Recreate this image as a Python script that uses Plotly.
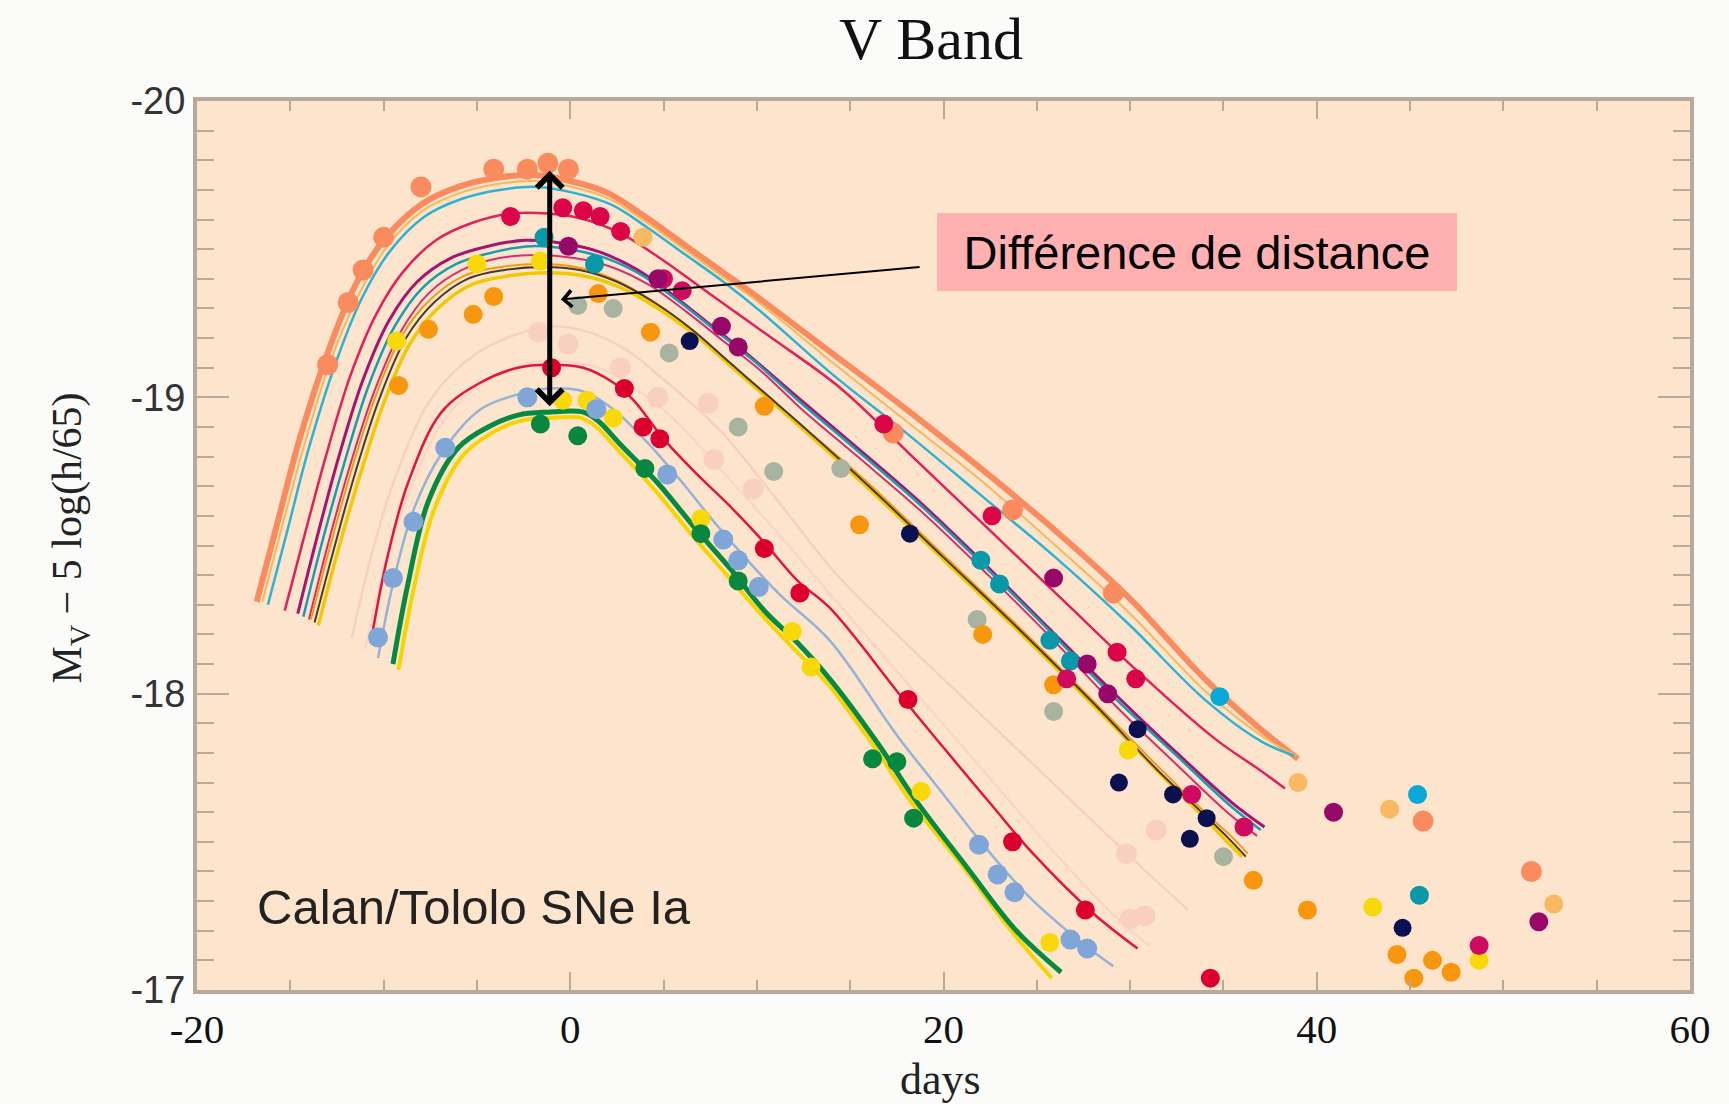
import plotly.graph_objects as go

# ---------------- axis ticks ----------------
x_tick_vals = [-20, 0, 20, 40, 60]
x_tick_text = ["-20", "0", "20", "40", "60"]
y_tick_vals = [-20, -19, -18, -17]
y_tick_text = ["-20", "-19", "-18", "-17"]

# ---------------- fitted light curves (days, magnitude) ----------------
orange_days = [-16.8, -15.8, -14.5, -13.0, -11.5, -10.0, -8.0, -6.0, -4.0, -2.0, 0.0, 2.0, 4.0, 6.0, 8.0, 10.0, 14.0, 18.0, 22.0, 26.0, 30.0, 34.0, 37.0, 39.0]
orange_mags = [-18.31, -18.55, -18.86, -19.15, -19.38, -19.53, -19.65, -19.71, -19.74, -19.75, -19.73, -19.69, -19.61, -19.52, -19.43, -19.34, -19.15, -18.96, -18.76, -18.55, -18.32, -18.05, -17.88, -17.78]

lorange_days = [-16.5, -15.5, -14.2, -12.8, -11.3, -9.8, -7.9, -5.9, -3.9, -1.9, 0.1, 2.1, 4.1, 6.1, 8.1, 10.1, 14.0, 18.0, 22.0, 26.0, 30.0, 34.0, 37.0, 38.9]
lorange_mags = [-18.31, -18.55, -18.85, -19.13, -19.35, -19.51, -19.63, -19.69, -19.72, -19.73, -19.71, -19.67, -19.59, -19.50, -19.41, -19.32, -19.12, -18.92, -18.72, -18.50, -18.27, -18.01, -17.86, -17.79]

cyan_days = [-16.2, -15.2, -14.0, -12.6, -11.2, -9.7, -7.8, -5.8, -3.8, -1.8, 0.2, 2.2, 4.2, 6.2, 8.2, 10.2, 14.0, 18.0, 22.0, 26.0, 30.0, 34.0, 37.0, 38.8]
cyan_mags = [-18.30, -18.54, -18.83, -19.11, -19.33, -19.49, -19.61, -19.67, -19.70, -19.71, -19.69, -19.65, -19.57, -19.48, -19.39, -19.29, -19.08, -18.88, -18.67, -18.46, -18.23, -17.98, -17.84, -17.79]

crimson_days = [-15.3, -14.3, -13.1, -11.8, -10.4, -9.0, -7.2, -5.2, -3.2, -1.2, 0.8, 2.8, 4.8, 6.8, 8.8, 10.8, 14.5, 18.5, 22.5, 26.5, 30.5, 34.5, 37.0, 38.3]
crimson_mags = [-18.28, -18.52, -18.80, -19.07, -19.28, -19.42, -19.53, -19.59, -19.62, -19.62, -19.60, -19.55, -19.47, -19.38, -19.29, -19.20, -19.03, -18.79, -18.55, -18.31, -18.07, -17.85, -17.74, -17.68]

purple_days = [-14.6, -13.6, -12.4, -11.1, -9.7, -8.2, -6.4, -4.4, -2.4, -0.4, 1.6, 3.6, 5.6, 7.6, 9.6, 12.0, 15.0, 18.5, 22.0, 25.5, 29.0, 32.5, 35.5, 37.2]
purple_mags = [-18.27, -18.52, -18.80, -19.06, -19.26, -19.39, -19.47, -19.51, -19.53, -19.52, -19.49, -19.43, -19.34, -19.24, -19.14, -19.01, -18.85, -18.66, -18.45, -18.23, -18.01, -17.80, -17.63, -17.55]

teal_days = [-14.3, -13.3, -12.1, -10.8, -9.4, -7.9, -6.1, -4.1, -2.1, -0.1, 1.9, 3.9, 5.9, 7.9, 9.9, 12.2, 15.2, 18.7, 22.2, 25.7, 29.1, 32.5, 35.4, 37.0]
teal_mags = [-18.26, -18.51, -18.78, -19.04, -19.24, -19.37, -19.45, -19.49, -19.51, -19.50, -19.47, -19.41, -19.32, -19.22, -19.12, -18.99, -18.83, -18.64, -18.43, -18.21, -17.99, -17.79, -17.62, -17.54]

magenta_days = [-14.0, -13.0, -11.8, -10.5, -9.1, -7.6, -5.8, -3.8, -1.8, 0.2, 2.2, 4.2, 6.2, 8.2, 10.2, 12.4, 15.4, 18.9, 22.4, 25.9, 29.2, 32.5, 35.2, 36.8]
magenta_mags = [-18.25, -18.50, -18.77, -19.02, -19.22, -19.35, -19.43, -19.47, -19.48, -19.47, -19.44, -19.38, -19.29, -19.19, -19.09, -18.96, -18.80, -18.61, -18.40, -18.18, -17.96, -17.76, -17.60, -17.52]

black_days = [-13.7, -12.7, -11.5, -10.2, -8.8, -7.3, -5.5, -3.5, -1.5, 0.5, 2.5, 4.5, 6.5, 8.5, 10.5, 12.5, 16.0, 20.0, 24.0, 28.0, 31.5, 34.0, 35.3, 36.2]
black_mags = [-18.24, -18.48, -18.75, -19.00, -19.20, -19.32, -19.40, -19.43, -19.44, -19.43, -19.39, -19.32, -19.23, -19.12, -19.01, -18.90, -18.70, -18.46, -18.22, -17.97, -17.74, -17.59, -17.51, -17.45]

yellowup_days = [-13.5, -12.5, -11.3, -10.0, -8.6, -7.1, -5.3, -3.3, -1.3, 0.7, 2.7, 4.7, 6.7, 8.7, 10.7, 12.7, 16.2, 20.2, 24.2, 28.2, 31.6, 34.0, 35.2, 36.0]
yellowup_mags = [-18.23, -18.47, -18.73, -18.98, -19.18, -19.30, -19.38, -19.41, -19.42, -19.41, -19.37, -19.30, -19.21, -19.10, -18.99, -18.88, -18.68, -18.44, -18.20, -17.95, -17.73, -17.58, -17.50, -17.45]

orangeup_days = [-13.9, -12.9, -11.7, -10.4, -9.0, -7.5, -5.7, -3.7, -1.7, 0.3, 2.3, 4.3, 6.3, 8.3, 10.3, 12.3, 15.8, 19.8, 23.8, 27.8, 31.4, 34.0, 35.4, 36.3]
orangeup_mags = [-18.25, -18.49, -18.76, -19.01, -19.21, -19.33, -19.41, -19.44, -19.45, -19.44, -19.40, -19.33, -19.24, -19.13, -19.02, -18.91, -18.72, -18.48, -18.24, -17.99, -17.76, -17.60, -17.52, -17.46]

pink1_days = [-11.7, -10.6, -9.2, -7.4, -5.2, -3.0, -1.0, 1.0, 3.0, 5.0, 8.0, 11.0, 14.3, 18.0, 22.0, 26.0, 30.0, 33.1]
pink1_mags = [-18.19, -18.48, -18.76, -19.00, -19.14, -19.21, -19.24, -19.22, -19.16, -19.06, -18.89, -18.66, -18.40, -18.17, -17.93, -17.69, -17.45, -17.27]

pink2_days = [-11.0, -9.9, -8.5, -6.7, -4.6, -2.5, -0.5, 1.5, 3.5, 5.5, 8.0, 11.0, 14.0, 18.0, 22.0, 26.0, 29.0, 31.0]
pink2_mags = [-18.15, -18.44, -18.70, -18.93, -19.05, -19.11, -19.12, -19.10, -19.03, -18.93, -18.76, -18.55, -18.33, -18.04, -17.75, -17.46, -17.26, -17.15]

redlow_days = [-10.7, -9.8, -8.7, -6.9, -4.8, -2.8, -1.2, 0.7, 2.3, 3.4, 5.0, 6.8, 8.6, 10.4, 12.2, 13.9, 18.0, 22.5, 24.8, 28.0, 30.4]
redlow_mags = [-18.17, -18.46, -18.71, -18.95, -19.05, -19.10, -19.11, -19.10, -19.05, -18.99, -18.86, -18.74, -18.63, -18.51, -18.38, -18.29, -17.97, -17.63, -17.46, -17.26, -17.14]

blue_days = [-10.3, -9.5, -8.4, -6.8, -4.8, -2.8, -1.2, 0.7, 2.3, 4.1, 5.9, 7.7, 9.5, 11.3, 13.9, 17.5, 20.0, 22.0, 24.5, 27.0, 29.1]
blue_mags = [-18.12, -18.37, -18.62, -18.82, -18.96, -19.01, -19.03, -19.02, -18.96, -18.85, -18.72, -18.58, -18.45, -18.33, -18.18, -17.86, -17.66, -17.50, -17.32, -17.18, -17.08]

green_days = [-9.5, -8.7, -7.6, -6.0, -4.4, -2.8, -1.2, 0.7, 1.5, 2.7, 4.7, 6.8, 8.6, 10.4, 12.2, 13.9, 16.5, 18.4, 21.3, 23.9, 26.3]
green_mags = [-18.10, -18.37, -18.65, -18.83, -18.90, -18.94, -18.95, -18.95, -18.92, -18.84, -18.71, -18.55, -18.42, -18.28, -18.17, -18.05, -17.83, -17.65, -17.41, -17.20, -17.06]

yellowlow_days = [-9.2, -8.4, -7.3, -5.8, -4.2, -2.7, -1.1, 0.6, 1.4, 2.6, 4.5, 6.6, 8.4, 10.2, 12.0, 13.7, 16.3, 18.2, 21.0, 23.5, 25.8]
yellowlow_mags = [-18.08, -18.35, -18.62, -18.80, -18.88, -18.92, -18.93, -18.93, -18.90, -18.82, -18.69, -18.53, -18.40, -18.27, -18.15, -18.04, -17.82, -17.64, -17.42, -17.21, -17.04]

# ---------------- observed points ----------------
salmon_pts_days = [-13.0, -11.9, -11.1, -10.0, -8.0, -4.1, -2.3, -1.2, -0.1, 17.3, 23.7, 29.1, 45.7, 51.5]
salmon_pts_mags = [-19.11, -19.32, -19.43, -19.54, -19.71, -19.77, -19.77, -19.79, -19.77, -18.88, -18.62, -18.34, -17.57, -17.40]

lorange_pts_days = [3.9, 39.0, 43.9, 52.7]
lorange_pts_mags = [-19.54, -17.70, -17.61, -17.29]

cyan_pts_days = [34.8, 45.4]
cyan_pts_mags = [-17.99, -17.66]

teal_pts_days = [-1.4, 1.3, 22.0, 23.0, 25.7, 26.8, 45.5]
teal_pts_mags = [-19.54, -19.45, -18.45, -18.37, -18.18, -18.11, -17.32]

crimson_pts_days = [-3.2, -0.4, 0.7, 1.6, 2.7, 16.8, 22.6, 29.3, 30.3]
crimson_pts_mags = [-19.61, -19.64, -19.63, -19.61, -19.56, -18.91, -18.60, -18.14, -18.05]

magenta_pts_days = [5.0, 6.0, 26.6, 33.3, 36.1, 48.7]
magenta_pts_mags = [-19.40, -19.36, -18.05, -17.66, -17.55, -17.15]

purple_pts_days = [-0.1, 4.7, 8.1, 9.0, 25.9, 27.7, 28.8, 40.9, 51.9]
purple_pts_mags = [-19.51, -19.40, -19.24, -19.17, -18.39, -18.10, -18.00, -17.60, -17.23]

navy_pts_days = [6.4, 18.2, 30.4, 29.4, 32.3, 34.1, 33.2, 44.6]
navy_pts_mags = [-19.19, -18.54, -17.88, -17.70, -17.66, -17.58, -17.51, -17.21]

yellow_pts_days = [-9.3, -5.0, -1.6, 29.9, 43.0, 48.7, -0.4, 0.9, 2.3, 7.0, 11.9, 12.9, 18.8, 25.7]
yellow_pts_mags = [-19.19, -19.45, -19.46, -17.81, -17.28, -17.10, -18.99, -18.99, -18.93, -18.59, -18.21, -18.09, -17.67, -17.16]

orange_pts_days = [-9.2, -7.6, -5.2, -4.1, 1.5, 4.3, 10.4, 15.5, 22.1, 25.9, 36.6, 39.5, 44.3, 46.2, 45.2, 47.2]
orange_pts_mags = [-19.04, -19.23, -19.28, -19.34, -19.35, -19.22, -18.97, -18.57, -18.20, -18.03, -17.37, -17.27, -17.12, -17.10, -17.04, -17.06]

gray_pts_days = [0.4, 2.3, 5.3, 9.0, 10.9, 14.5, 21.8, 25.9, 35.0]
gray_pts_mags = [-19.31, -19.30, -19.15, -18.90, -18.75, -18.76, -18.25, -17.94, -17.45]

blue_pts_days = [-10.3, -9.5, -8.4, -6.7, -2.3, 1.4, 5.2, 8.2, 9.0, 10.1, 21.9, 22.9, 23.8, 26.8, 27.7]
blue_pts_mags = [-18.19, -18.39, -18.58, -18.83, -19.00, -18.96, -18.74, -18.52, -18.45, -18.36, -17.49, -17.39, -17.33, -17.17, -17.14]

green_pts_days = [-1.6, 0.4, 4.0, 7.0, 9.0, 16.2, 17.5, 18.4]
green_pts_mags = [-18.91, -18.87, -18.76, -18.54, -18.38, -17.78, -17.77, -17.58]

red_pts_days = [-1.0, 2.9, 3.9, 4.8, 10.4, 12.3, 18.1, 23.7, 27.6, 34.3]
red_pts_mags = [-19.10, -19.03, -18.90, -18.86, -18.49, -18.34, -17.98, -17.50, -17.27, -17.04]

faint_pts_days = [-1.7, -0.1, 2.7, 4.7, 7.4, 7.7, 9.8, 29.8, 31.4, 30.0, 30.8]
faint_pts_mags = [-19.22, -19.18, -19.10, -19.00, -18.98, -18.79, -18.69, -17.46, -17.54, -17.24, -17.25]

# ---------------- annotation anchors ----------------
label_text = "Différence de distance"
label_day, label_mag = 33.6, -19.49
arrow_tail = (18.8, -19.44)
arrow_head = (-0.5, -19.33)
span_day = -1.1
span_top, span_bottom = -19.77, -18.97
sample_day, sample_mag = -16.9, -17.28

fig = go.Figure()

def add_line(days, mags, color, width, opacity=1.0):
    fig.add_trace(go.Scatter(x=days, y=mags, mode="lines",
                             line=dict(color=color, width=width, shape="spline", smoothing=1.0),
                             opacity=opacity, hoverinfo="skip", showlegend=False))

def add_pts(days, mags, color, size=19, opacity=1.0):
    fig.add_trace(go.Scatter(x=days, y=mags, mode="markers",
                             marker=dict(color=color, size=size, line=dict(width=0)),
                             opacity=opacity, hoverinfo="skip", showlegend=False))

# faint background curves / points
add_line(pink1_days, pink1_mags, "#F7D0C3", 2.5)
add_line(pink2_days, pink2_mags, "#F8D6CA", 2.5)
add_pts(faint_pts_days, faint_pts_mags, "#F8CFC0", 21)

# upper group
add_line(orange_days, orange_mags, "#F98B5E", 6)
add_line(lorange_days, lorange_mags, "#F7B85A", 2)
add_line(cyan_days, cyan_mags, "#2DB2D2", 2.5)
add_line(crimson_days, crimson_mags, "#E2205A", 2.5)
add_line(purple_days, purple_mags, "#A3156F", 3)
add_line(teal_days, teal_mags, "#1C9BB2", 2.5)
add_line(magenta_days, magenta_mags, "#D2306E", 2)
add_line(yellowup_days, yellowup_mags, "#F2C800", 3.5)
add_line(orangeup_days, orangeup_mags, "#F49A12", 2)
add_line(black_days, black_mags, "#4A3A2A", 2)

# lower group
add_line(redlow_days, redlow_mags, "#E2153F", 2.5)
add_line(blue_days, blue_mags, "#93B3D8", 2.5)
add_line(yellowlow_days, yellowlow_mags, "#F6D400", 4)
add_line(green_days, green_mags, "#078A40", 5)

# points
add_pts(salmon_pts_days, salmon_pts_mags, "#F98B5E", 21)
add_pts(lorange_pts_days, lorange_pts_mags, "#F9B862")
add_pts(gray_pts_days, gray_pts_mags, "#A9B4A0")
add_pts(orange_pts_days, orange_pts_mags, "#F8960E")
add_pts(yellow_pts_days, yellow_pts_mags, "#F8D808")
add_pts(cyan_pts_days, cyan_pts_mags, "#0AA8D8")
add_pts(teal_pts_days, teal_pts_mags, "#0898A8")
add_pts(crimson_pts_days, crimson_pts_mags, "#DC0548")
add_pts(magenta_pts_days, magenta_pts_mags, "#D00A60")
add_pts(purple_pts_days, purple_pts_mags, "#980868")
add_pts(navy_pts_days, navy_pts_mags, "#0A1050", 18)
add_pts(blue_pts_days, blue_pts_mags, "#7FA6D6", 20)
add_pts(green_pts_days, green_pts_mags, "#07873F")
add_pts(red_pts_days, red_pts_mags, "#DC0030")

axis_col = "#B7AA9C"
fig.update_xaxes(range=[-20, 60], tickmode="array", tickvals=x_tick_vals, ticktext=x_tick_text,
                 showline=True, linecolor=axis_col, linewidth=4, mirror="ticks",
                 ticks="inside", ticklen=18, tickwidth=2, tickcolor=axis_col,
                 minor=dict(tick0=0, dtick=5, ticks="inside", ticklen=10, tickwidth=2, tickcolor=axis_col),
                 showgrid=False, zeroline=False,
                 tickfont=dict(family="Liberation Serif", size=41, color="#111111"))
fig.update_yaxes(range=[-17, -20], tickmode="array", tickvals=y_tick_vals, ticktext=y_tick_text,
                 showline=True, linecolor=axis_col, linewidth=4, mirror="ticks",
                 ticks="inside", ticklen=32, tickwidth=2, tickcolor=axis_col,
                 minor=dict(tick0=-20, dtick=0.1, ticks="inside", ticklen=17, tickwidth=2, tickcolor=axis_col),
                 showgrid=False, zeroline=False,
                 tickfont=dict(family="Liberation Sans", size=38, color="#333333"))

annotations = [
    dict(text="M<sub>V</sub> − 5 log(h/65)", xref="paper", yref="paper", x=-0.0850, y=0.508,
         textangle=-90, showarrow=False, xanchor="center", yanchor="middle",
         font=dict(family="Liberation Serif", size=42, color="#222222")),
    dict(text="days", xref="paper", yref="paper", x=0.4977, y=-0.101, showarrow=False,
         xanchor="center", yanchor="middle",
         font=dict(family="Liberation Serif", size=44, color="#222222")),
    dict(text="Calan/Tololo SNe Ia", x=sample_day, y=sample_mag, xref="x", yref="y",
         showarrow=False, xanchor="left", yanchor="middle",
         font=dict(family="Liberation Sans", size=49, color="#222222")),
    dict(text=label_text, x=label_day, y=label_mag, xref="x", yref="y", showarrow=False,
         xanchor="center", yanchor="middle", bgcolor="#FFB1B1", width=520, height=78,
         borderpad=0, borderwidth=0,
         font=dict(family="Liberation Sans", size=47, color="#000000")),
    dict(text="", x=arrow_head[0], y=arrow_head[1], ax=arrow_tail[0], ay=arrow_tail[1],
         xref="x", yref="y", axref="x", ayref="y", showarrow=True,
         arrowhead=4, arrowsize=1.6, arrowwidth=2, arrowcolor="#000000", standoff=0),
    dict(text="", x=span_day, y=span_bottom, ax=span_day, ay=span_top,
         xref="x", yref="y", axref="x", ayref="y", showarrow=True, arrowside="end+start",
         arrowhead=4, startarrowhead=4, arrowsize=1, startarrowsize=1,
         arrowwidth=5, arrowcolor="#000000", standoff=0, startstandoff=0),
]

fig.update_layout(
    width=1729, height=1104,
    margin=dict(l=197, r=39, t=101, b=114),
    paper_bgcolor="#FBFCFA", plot_bgcolor="#FDE5CD",
    showlegend=False,
    title=dict(text="V Band", x=931/1729, xanchor="center", y=1 - 38/1104, yanchor="middle",
               font=dict(family="Liberation Serif", size=60, color="#111111")),
    annotations=annotations,
)

fig.write_html("out.html")
